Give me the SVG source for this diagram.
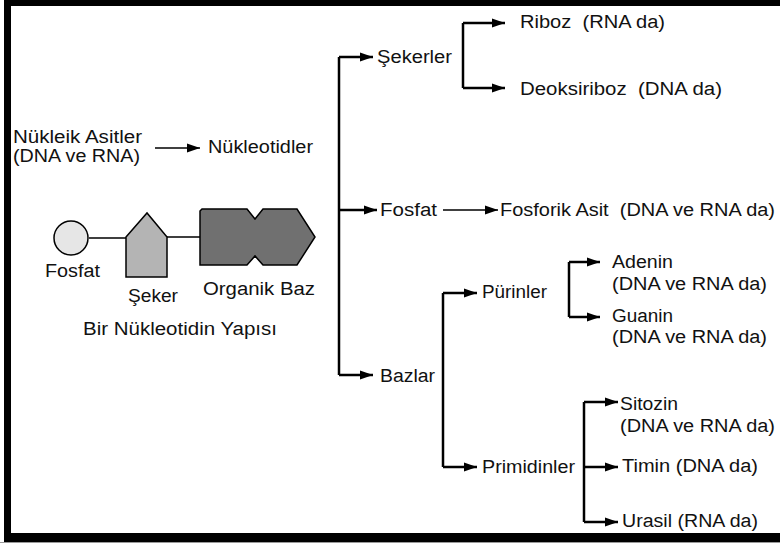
<svg xmlns="http://www.w3.org/2000/svg" width="780" height="543" viewBox="0 0 780 543">
<defs>
<style>
text{font-family:"Liberation Sans",Arial,sans-serif;font-size:18px;fill:#111;}
.thick{stroke:#000;stroke-width:2.5;fill:none;}
.thin{stroke:#000;stroke-width:1.5;fill:none;}
.shape{stroke:#000;stroke-width:1.5;}
</style>
<marker id="ah" markerUnits="userSpaceOnUse" markerWidth="14" markerHeight="10" refX="13" refY="5" orient="auto">
<path d="M0,0.5 L13,5 L0,9.5 Z" fill="#000"/>
</marker>
</defs>
<rect x="0" y="0" width="780" height="543" fill="#fff"/>
<g id="frame">
<rect x="4" y="0" width="7" height="542" fill="#000"/>
<rect x="4" y="0" width="776" height="6" fill="#000"/>
<rect x="4" y="533" width="776" height="9" fill="#000"/>
<rect x="0" y="542" width="780" height="1" fill="#999"/>
</g>
<g id="connectors">
<path class="thin" d="M155,148 H200" marker-end="url(#ah)"/>
<path class="thin" d="M89,238 H126 M167,237 H200"/>
<path class="thick" d="M339,57 V375"/>
<path class="thick" d="M339,57 H373" marker-end="url(#ah)"/>
<path class="thick" d="M339,210 H377" marker-end="url(#ah)"/>
<path class="thick" d="M339,375 H373" marker-end="url(#ah)"/>
<path class="thick" d="M463,23 V88"/>
<path class="thick" d="M463,23 H505" marker-end="url(#ah)"/>
<path class="thick" d="M463,88 H505" marker-end="url(#ah)"/>
<path class="thin" d="M443,210 H498" marker-end="url(#ah)"/>
<path class="thick" d="M443,293 V467"/>
<path class="thick" d="M443,293 H477" marker-end="url(#ah)"/>
<path class="thick" d="M443,467 H477" marker-end="url(#ah)"/>
<path class="thick" d="M569,262 V317"/>
<path class="thick" d="M569,262 H600" marker-end="url(#ah)"/>
<path class="thick" d="M569,317 H600" marker-end="url(#ah)"/>
<path class="thick" d="M584,402 V522"/>
<path class="thick" d="M584,402 H618" marker-end="url(#ah)"/>
<path class="thick" d="M584,467 H618" marker-end="url(#ah)"/>
<path class="thick" d="M584,522 H618" marker-end="url(#ah)"/>
</g>
<g id="nukleik">
<text x="13" y="143" textLength="129" lengthAdjust="spacingAndGlyphs">Nükleik Asitler</text>
<text x="13" y="162" textLength="127" lengthAdjust="spacingAndGlyphs">(DNA ve RNA)</text>
</g>
<g id="nukleotidler"><text x="208" y="153" textLength="105" lengthAdjust="spacingAndGlyphs">Nükleotidler</text></g>
<g id="fosfat-shape">
<circle cx="71" cy="238" r="17" fill="#e6e6e6" class="shape"/>
<text x="45" y="277" textLength="55" lengthAdjust="spacingAndGlyphs">Fosfat</text>
</g>
<g id="seker-shape">
<path d="M126,237 L147,213 L167,237 L167,277 L126,277 Z" fill="#b4b4b4" class="shape"/>
<text x="128" y="302" textLength="50" lengthAdjust="spacingAndGlyphs">Şeker</text>
</g>
<g id="baz-shape">
<path d="M200,211 L202,209 L247,209 L255,219 L263,209 L297,209 L315,237 L297,265 L263,265 L255,256 L247,265 L200,265 Z" fill="#707070" class="shape"/>
<text x="203" y="295" textLength="112" lengthAdjust="spacingAndGlyphs">Organik Baz</text>
</g>
<g id="caption"><text x="83" y="335" textLength="194" lengthAdjust="spacingAndGlyphs">Bir Nükleotidin Yapısı</text></g>
<g id="sekerler"><text x="377" y="63" textLength="75" lengthAdjust="spacingAndGlyphs">Şekerler</text></g>
<g id="riboz"><text x="520" y="28" textLength="145" lengthAdjust="spacingAndGlyphs" xml:space="preserve">Riboz  (RNA da)</text></g>
<g id="deoksiriboz"><text x="520" y="95" textLength="202" lengthAdjust="spacingAndGlyphs" xml:space="preserve">Deoksiriboz  (DNA da)</text></g>
<g id="fosfat"><text x="380" y="216" textLength="57" lengthAdjust="spacingAndGlyphs">Fosfat</text></g>
<g id="fosforik"><text x="500" y="216" textLength="275" lengthAdjust="spacingAndGlyphs" xml:space="preserve">Fosforik Asit  (DNA ve RNA da)</text></g>
<g id="bazlar"><text x="380" y="382" textLength="55" lengthAdjust="spacingAndGlyphs">Bazlar</text></g>
<g id="purinler"><text x="482" y="298" textLength="65" lengthAdjust="spacingAndGlyphs">Pürinler</text></g>
<g id="adenin">
<text x="612" y="268" textLength="61" lengthAdjust="spacingAndGlyphs">Adenin</text>
<text x="612" y="290" textLength="155" lengthAdjust="spacingAndGlyphs">(DNA ve RNA da)</text>
</g>
<g id="guanin">
<text x="612" y="322" textLength="61" lengthAdjust="spacingAndGlyphs">Guanin</text>
<text x="612" y="343" textLength="155" lengthAdjust="spacingAndGlyphs">(DNA ve RNA da)</text>
</g>
<g id="primidinler"><text x="482" y="473" textLength="93" lengthAdjust="spacingAndGlyphs">Primidinler</text></g>
<g id="sitozin">
<text x="620" y="410" textLength="58" lengthAdjust="spacingAndGlyphs">Sitozin</text>
<text x="620" y="432" textLength="155" lengthAdjust="spacingAndGlyphs">(DNA ve RNA da)</text>
</g>
<g id="timin"><text x="622" y="472" textLength="136" lengthAdjust="spacingAndGlyphs">Timin (DNA da)</text></g>
<g id="urasil"><text x="622" y="527" textLength="136" lengthAdjust="spacingAndGlyphs">Urasil (RNA da)</text></g>
</svg>
